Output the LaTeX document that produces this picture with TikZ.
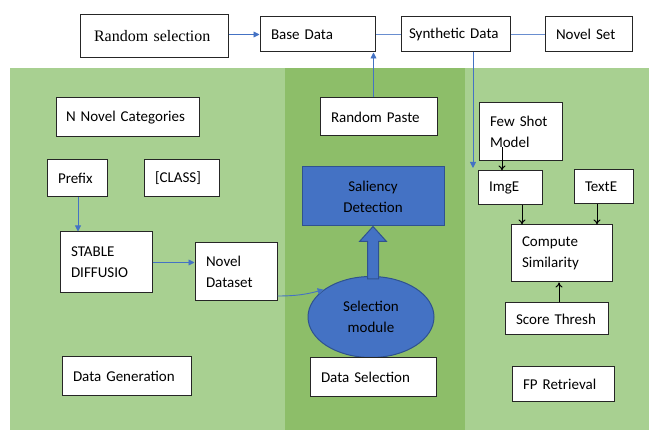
\documentclass[tikz,border=0pt]{standalone}
\usepackage{fontspec}
\setmainfont{Carlito}
\newfontfamily\timesfont{Liberation Serif}
\usetikzlibrary{arrows.meta,calc,shapes.geometric}
\definecolor{lightgr}{HTML}{A8D091}
\definecolor{midgr}{HTML}{8DBE69}
\definecolor{arrblue}{HTML}{4472C4}
\definecolor{salblue}{HTML}{4472C4}
\definecolor{salline}{HTML}{2F528F}
\tikzset{
    box/.style={draw=black!85, line width=1pt, fill=white, inner xsep=11pt,
        align=left, font=\fontsize{15}{21}\selectfont},
    bluearr/.style={draw=arrblue, line width=0.9pt, -{Triangle[length=6pt,width=6pt]}},
    blueln/.style={draw=arrblue!80, line width=0.9pt},
    blkarr/.style={draw=black, line width=1pt, -{To[length=5pt,width=7pt]}},
}
\begin{document}
\begin{tikzpicture}[x=1pt,y=-1pt]
    \useasboundingbox (0,0) rectangle (649,430);
    %% panels
    \fill[lightgr] (10,68) rectangle (649,430);
    \fill[midgr] (285,68) rectangle (465,430);
    %% top row
    \node[box, text width=120pt, minimum height=43pt, inner xsep=14pt,
        font=\timesfont\fontsize{16}{18}\selectfont] (rsel) at (154,36.5) {Random selection};
    \node[box, text width=93pt, minimum height=35pt] (base) at (317.5,34.5) {Base Data};
    \node[box, text width=93pt, minimum height=35pt, inner xsep=8pt] (synth) at (455.5,34.5) {Synthetic Data};
    \node[box, text width=65pt, minimum height=35pt] (novset) at (588.5,34.5) {Novel Set};
    %% data generation
    \node[box, text width=123pt, minimum height=39pt, inner xsep=10pt] (ncat) at (127.5,117.5) {N Novel Categories};
    \node[box, text width=38pt, minimum height=37pt] (prefix) at (77,178.5) {Prefix};
    \node[box, text width=53pt, minimum height=37pt] (cls) at (181.5,178.5) {[CLASS]};
    \node[box, text width=70pt, minimum height=61pt] (stable) at (106,262.5) {STABLE\\DIFFUSIO};
    \node[box, text width=60pt, minimum height=58pt] (novds) at (236,272) {Novel\\Dataset};
    \node[box, text width=107pt, minimum height=39pt] (datagen) at (126.5,376.5) {Data Generation};
    %% data selection
    \node[box, text width=95pt, minimum height=38pt] (rpaste) at (378.5,117) {Random Paste};
    \node[box, draw=salline, fill=salblue, text width=120pt, minimum height=59pt,
        align=center] (sal) at (373,196.5) {Saliency\\Detection};
    \node[ellipse, draw=salline, line width=1pt, fill=salblue, minimum width=126pt,
        minimum height=81pt, inner sep=0pt, align=center,
        font=\fontsize{15}{21}\selectfont] (selmod) at (371,317) {Selection\\module};
    \node[box, text width=104pt, minimum height=39pt] (datasel) at (373,377.5) {Data Selection};
    %% FP retrieval
    \node[box, text width=61pt, minimum height=58pt] (fsm) at (520.5,132) {Few Shot\\Model};
    \node[box, text width=42pt, minimum height=34pt] (imge) at (510,188) {ImgE};
    \node[box, text width=37pt, minimum height=34pt] (texte) at (603.5,187) {TextE};
    \node[box, text width=79pt, minimum height=57pt] (csim) at (561.5,253.5) {Compute\\Similarity};
    \node[box, text width=81pt, minimum height=32pt] (score) at (556.5,319) {Score Thresh};
    \node[box, text width=80pt, minimum height=35pt] (fpr) at (563,384.5) {FP Retrieval};
    \coordinate (imgin) at (473,168);
    %% blue connectors
    \draw[bluearr] (rsel.east |- base.west) -- (base.west);
    \draw[blueln] (base.east) -- (synth.west);
    \draw[blueln] (synth.east) -- (novset.west);
    \draw[bluearr] ([xshift=-5pt]rpaste.north) -- ([xshift=-5pt]rpaste.north |- base.south);
    \draw[bluearr] (synth.south -| imgin) -- (imgin);
    \draw[bluearr] ([xshift=1pt]prefix.south) -- ([xshift=1pt]prefix.south |- stable.north);
    \draw[bluearr] (stable.east) -- (stable.east -| novds.west);
    \draw[bluearr] ([yshift=-24pt]novds.east) to[out=0,in=195] (selmod.150);
    %% block arrow
    \draw[salline, line width=1pt, fill=salblue]
        (sal.south) -- ($(sal.south)+(13.5,15)$) -- ($(sal.south)+(5.5,15)$)
        -- ($(sal.south |- selmod.north)+(5.5,3)$) -- ($(sal.south |- selmod.north)+(-5.5,3)$)
        -- ($(sal.south)+(-5.5,15)$) -- ($(sal.south)+(-13.5,15)$) -- cycle;
    %% black arrows
    \draw[blkarr] ([xshift=-18.5pt,yshift=14pt]fsm.south) -- ([xshift=-18.5pt]fsm.south |- imge.north);
    \draw[blkarr] ([xshift=12pt]imge.south) -- ([xshift=12pt]imge.south |- csim.north);
    \draw[blkarr] ([xshift=-6.5pt]texte.south) -- ([xshift=-6.5pt]texte.south |- csim.north);
    \draw[blkarr] ([xshift=2.5pt]score.north) -- ([xshift=2.5pt]score.north |- csim.south);
\end{tikzpicture}
\end{document}
